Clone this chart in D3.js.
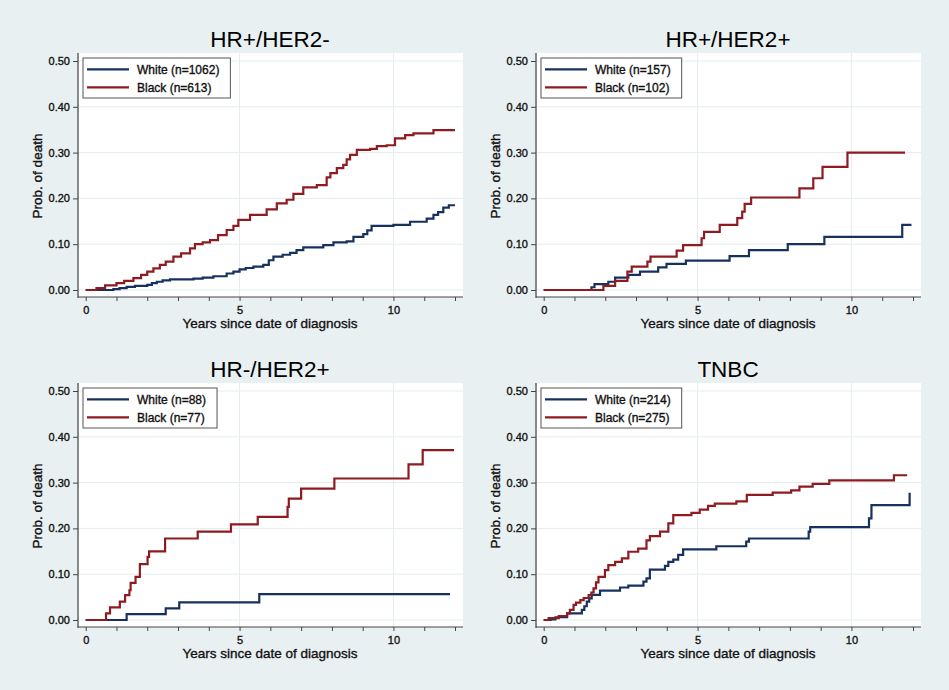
<!DOCTYPE html>
<html>
<head>
<meta charset="utf-8">
<script src="https://cdn.jsdelivr.net/npm/d3@7"></script>
<style>
  html, body { margin: 0; padding: 0; background: #e9f0f2; }
  svg { display: block; }
  text { font-family: "Liberation Sans", Arial, sans-serif; }
  .heavy { stroke: #111; stroke-width: 0.35px; }
</style>
</head>
<body>
<svg id="chart" width="949" height="690"></svg>
<script>
// ---------- DATA ----------
const panelTitles = ["HR+/HER2-", "HR+/HER2+", "HR-/HER2+", "TNBC"];
const seriesNames = ["White", "Black"];
const whiteN = [1062, 157, 88, 214];
const blackN = [613, 102, 77, 275];
const yTickValues = [0, 0.1, 0.2, 0.3, 0.4, 0.5];
const xTickValues = [0, 1, 2, 3, 4, 5, 6, 7, 8, 9, 10, 11, 12];
const xLabeledTicks = [0, 5, 10];
const yAxisTitle = "Prob. of death";
const xAxisTitle = "Years since date of diagnosis";

// Panel 1: HR+/HER2-
const p1WhiteT = [0, 0.9, 1.1, 1.33, 1.6, 2.0, 2.15, 2.31, 2.5, 2.74, 3.5, 3.8, 4.15, 4.58, 4.8, 5.0, 5.2, 5.45, 5.77, 5.95, 6.1, 6.4, 6.64, 6.85, 7.07, 7.72, 8.05, 8.48, 8.7, 9.02, 9.15, 9.29, 10.0, 10.54, 11.08, 11.3, 11.45, 11.62, 11.8, 12.0];
const p1WhiteP = [0, 0.002, 0.004, 0.007, 0.009, 0.011, 0.015, 0.018, 0.021, 0.023, 0.025, 0.027, 0.03, 0.036, 0.04, 0.045, 0.048, 0.051, 0.055, 0.065, 0.073, 0.077, 0.081, 0.087, 0.093, 0.098, 0.104, 0.106, 0.116, 0.122, 0.13, 0.14, 0.142, 0.149, 0.156, 0.164, 0.17, 0.18, 0.185, 0.185];
const p1BlackT = [0, 0.35, 0.63, 1.0, 1.25, 1.55, 1.8, 2.0, 2.2, 2.41, 2.6, 2.85, 3.1, 3.39, 3.55, 3.8, 4.04, 4.3, 4.58, 4.8, 4.96, 5.34, 5.88, 6.21, 6.53, 6.75, 7.07, 7.51, 7.83, 7.95, 8.16, 8.37, 8.48, 8.59, 8.81, 9.24, 9.46, 9.78, 10.05, 10.38, 10.65, 11.3, 12.0];
const p1BlackP = [0, 0.004, 0.01, 0.015, 0.02, 0.026, 0.033, 0.04, 0.047, 0.055, 0.062, 0.073, 0.08, 0.091, 0.10, 0.104, 0.109, 0.12, 0.131, 0.14, 0.153, 0.164, 0.176, 0.189, 0.197, 0.21, 0.224, 0.229, 0.246, 0.255, 0.266, 0.273, 0.285, 0.295, 0.306, 0.308, 0.314, 0.316, 0.331, 0.338, 0.342, 0.349, 0.349];

// Panel 2: HR+/HER2+
const p2WhiteT = [0, 1.55, 1.65, 2.1, 2.32, 2.75, 3.13, 3.72, 3.99, 4.62, 6.04, 6.67, 7.93, 9.12, 11.65, 11.95];
const p2WhiteP = [0, 0.006, 0.013, 0.018, 0.027, 0.033, 0.04, 0.0495, 0.057, 0.064, 0.074, 0.087, 0.10, 0.116, 0.142, 0.142];
const p2BlackT = [0, 1.94, 2.32, 2.72, 2.86, 3.37, 3.47, 4.32, 4.53, 5.13, 5.21, 5.72, 6.29, 6.45, 6.53, 6.74, 8.31, 8.76, 9.06, 9.87, 11.74];
const p2BlackP = [0, 0.009, 0.02, 0.04, 0.051, 0.062, 0.073, 0.086, 0.098, 0.113, 0.127, 0.142, 0.157, 0.171, 0.188, 0.202, 0.222, 0.244, 0.269, 0.30, 0.30];

// Panel 3: HR-/HER2+
const p3WhiteT = [0, 1.33, 2.6, 3.04, 5.64, 11.84];
const p3WhiteP = [0, 0.013, 0.0254, 0.0385, 0.0567, 0.0567];
const p3BlackT = [0, 0.66, 0.79, 1.11, 1.28, 1.42, 1.46, 1.62, 1.76, 2.01, 2.06, 2.58, 3.64, 4.72, 5.59, 6.56, 6.6, 7.0, 8.08, 10.49, 10.95, 11.97];
const p3BlackP = [0, 0.0146, 0.0276, 0.04, 0.0545, 0.065, 0.081, 0.094, 0.122, 0.138, 0.15, 0.178, 0.193, 0.209, 0.225, 0.247, 0.265, 0.287, 0.309, 0.34, 0.371, 0.371];

// Panel 4: TNBC
const p4WhiteT = [0, 0.22, 0.38, 0.76, 1.24, 1.32, 1.4, 1.48, 1.56, 1.83, 2.48, 2.75, 3.24, 3.34, 3.45, 3.94, 4.05, 4.21, 4.37, 4.53, 5.61, 6.58, 6.67, 8.61, 8.66, 10.57, 10.65, 11.89];
const p4WhiteP = [0, 0.0015, 0.006, 0.0145, 0.022, 0.03, 0.04, 0.047, 0.055, 0.064, 0.071, 0.075, 0.084, 0.091, 0.11, 0.118, 0.127, 0.132, 0.142, 0.154, 0.161, 0.171, 0.178, 0.193, 0.203, 0.222, 0.251, 0.278];
const p4BlackT = [0, 0.16, 0.49, 0.76, 0.85, 0.97, 1.05, 1.19, 1.3, 1.46, 1.55, 1.62, 1.7, 1.78, 1.99, 2.1, 2.32, 2.54, 2.75, 3.07, 3.34, 3.45, 3.78, 4.05, 4.21, 4.8, 5.07, 5.34, 5.56, 6.26, 6.6, 7.44, 8.04, 8.31, 8.74, 9.28, 11.38, 11.81];
const p4BlackP = [0, 0.004, 0.0087, 0.0145, 0.022, 0.033, 0.038, 0.0436, 0.048, 0.0545, 0.06, 0.069, 0.082, 0.094, 0.109, 0.12, 0.127, 0.1345, 0.149, 0.156, 0.174, 0.183, 0.193, 0.211, 0.229, 0.234, 0.241, 0.249, 0.254, 0.259, 0.273, 0.278, 0.283, 0.291, 0.297, 0.305, 0.316, 0.316];

const whiteT = [p1WhiteT, p2WhiteT, p3WhiteT, p4WhiteT];
const whiteP = [p1WhiteP, p2WhiteP, p3WhiteP, p4WhiteP];
const blackT = [p1BlackT, p2BlackT, p3BlackT, p4BlackT];
const blackP = [p1BlackP, p2BlackP, p3BlackP, p4BlackP];

// ---------- STYLE / LAYOUT ----------
const colWhite = "#17315f";
const colBlack = "#8e1b20";
const gridCol = "#e4ecef";
const axisCol = "#444";
const offsets = [[0, 0], [458, 0], [0, 330], [458, 330]];
const plot = { x0: 79, x1: 463, y0: 53, y1: 297 };

const svg = d3.select("#chart");
svg.append("rect").attr("width", 949).attr("height", 690).attr("fill", "#e9f0f2");

panelTitles.forEach((title, i) => {
  const [ox, oy] = offsets[i];
  const g = svg.append("g").attr("transform", `translate(${ox},${oy})`);
  const x = d3.scaleLinear().domain([0, 12]).range([85.7, 455]);
  const y = d3.scaleLinear().domain([0, 0.5]).range([290, 61]);

  // plot region
  g.append("rect").attr("x", plot.x0).attr("y", plot.y0)
    .attr("width", plot.x1 - plot.x0).attr("height", plot.y1 - plot.y0)
    .attr("fill", "#ffffff");

  // grid
  g.append("g").selectAll("line.h").data(yTickValues).join("line")
    .attr("x1", plot.x0).attr("x2", plot.x1)
    .attr("y1", d => y(d)).attr("y2", d => y(d))
    .attr("stroke", gridCol).attr("stroke-width", 1);
  g.append("g").selectAll("line.v").data([5, 10]).join("line")
    .attr("x1", d => x(d)).attr("x2", d => x(d))
    .attr("y1", plot.y0).attr("y2", plot.y1)
    .attr("stroke", gridCol).attr("stroke-width", 1);

  // axes
  const yAxis = d3.axisLeft(y).tickValues(yTickValues)
    .tickFormat(d3.format(".2f")).tickSize(5).tickSizeOuter(0).tickPadding(3);
  const ya = g.append("g").attr("transform", `translate(${plot.x0 - 1},0)`).call(yAxis);
  ya.select(".domain").remove();
  ya.selectAll(".tick line").attr("stroke", axisCol);
  ya.selectAll(".tick text").attr("font-size", 11).attr("fill", "#111").attr("class", "heavy")
    .attr("font-family", "Liberation Sans, Arial, sans-serif");
  g.append("line").attr("x1", plot.x0 - 1).attr("x2", plot.x0 - 1)
    .attr("y1", plot.y0).attr("y2", plot.y1 + 1).attr("stroke", axisCol).attr("stroke-width", 1.2);

  const xAxis = d3.axisBottom(x).tickValues(xTickValues)
    .tickFormat(d => xLabeledTicks.includes(d) ? d3.format("d")(d) : "")
    .tickSize(4).tickSizeOuter(0).tickPadding(5);
  const xa = g.append("g").attr("transform", `translate(0,${plot.y1})`).call(xAxis);
  xa.select(".domain").remove();
  xa.selectAll(".tick line").attr("stroke", axisCol);
  xa.selectAll(".tick text").attr("font-size", 11).attr("fill", "#111").attr("class", "heavy")
    .attr("font-family", "Liberation Sans, Arial, sans-serif");
  g.append("line").attr("x1", plot.x0 - 1).attr("x2", plot.x1)
    .attr("y1", plot.y1).attr("y2", plot.y1).attr("stroke", axisCol).attr("stroke-width", 1.2);

  // axis titles
  g.append("text").attr("x", 270).attr("y", 328).attr("text-anchor", "middle").attr("class", "heavy")
    .attr("font-size", 13.5).attr("fill", "#111").text(xAxisTitle);
  g.append("text").attr("transform", `translate(42,176) rotate(-90)`).attr("class", "heavy")
    .attr("text-anchor", "middle").attr("font-size", 13.5).attr("fill", "#111").text(yAxisTitle);

  // panel title
  g.append("text").attr("x", 270).attr("y", 46.5).attr("text-anchor", "middle")
    .attr("font-size", 22.5).attr("fill", "#000").text(title);

  // curves
  const line = d3.line().x(d => x(d[0])).y(d => y(d[1])).curve(d3.curveStepAfter);
  const wData = whiteT[i].map((t, k) => [t, whiteP[i][k]]);
  const bData = blackT[i].map((t, k) => [t, blackP[i][k]]);
  g.append("path").datum(wData).attr("d", line).attr("fill", "none")
    .attr("stroke", colWhite).attr("stroke-width", 2.2);
  g.append("path").datum(bData).attr("d", line).attr("fill", "none")
    .attr("stroke", colBlack).attr("stroke-width", 2.2);

  // legend
  const lg = g.append("g");
  const box = lg.append("rect").attr("x", 83).attr("y", 58).attr("height", 40)
    .attr("fill", "#fff").attr("stroke", "#555").attr("stroke-width", 1);
  const labels = [`${seriesNames[0]} (n=${whiteN[i]})`, `${seriesNames[1]} (n=${blackN[i]})`];
  const cols = [colWhite, colBlack];
  let maxW = 0;
  labels.forEach((lab, k) => {
    const yy = 69.3 + k * 18;
    lg.append("line").attr("x1", 87).attr("x2", 129).attr("y1", yy).attr("y2", yy)
      .attr("stroke", cols[k]).attr("stroke-width", 2.2);
    const t = lg.append("text").attr("x", 137).attr("y", yy + 4.2).attr("class", "heavy")
      .attr("font-size", 12).attr("fill", "#111").text(lab);
    maxW = Math.max(maxW, t.node().getComputedTextLength());
  });
  box.attr("width", 137 + maxW + 11 - 83);
});
</script>
</body>
</html>
